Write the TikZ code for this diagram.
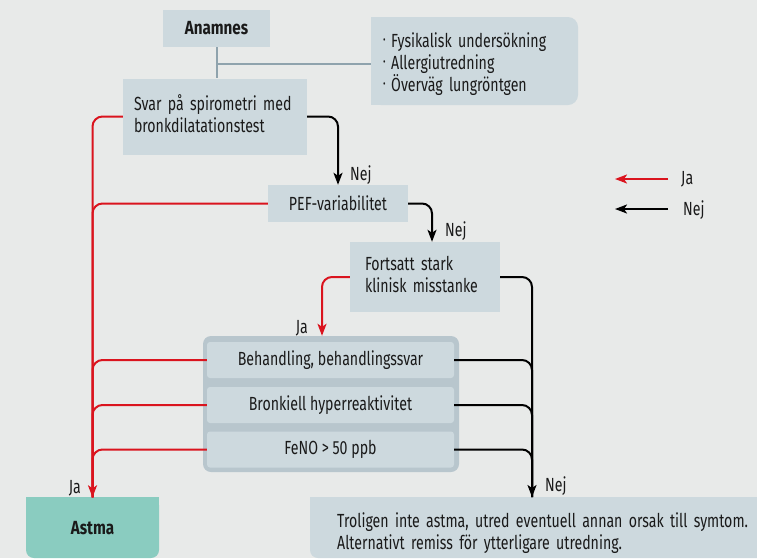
\documentclass[tikz,border=0pt]{standalone}
\usepackage{fontspec}
\setmainfont{Fira Sans}[FakeStretch=0.745, BoldFeatures={FakeStretch=0.8}]
\usetikzlibrary{arrows.meta}
\definecolor{bg}{HTML}{E8EAE9}
\definecolor{boxc}{HTML}{CDD9DE}
\definecolor{grpc}{HTML}{B8C6CD}
\definecolor{tealc}{HTML}{8ACCC0}
\definecolor{redc}{HTML}{DA141E}
\definecolor{greyl}{HTML}{8FA3AD}
\definecolor{txtc}{HTML}{1A1A1A}
\newcommand\mybul{\raisebox{0.22em}{\scalebox{0.55}{\textbullet}}\hspace{0.3em}}
\newcommand\liftlines[2]{\raisebox{#1}{\begin{tabular}{@{}l@{}}#2\end{tabular}}}
\begin{document}
\begin{tikzpicture}[x=1pt,y=-1pt,
  txt/.style={font=\fontsize{19}{22}\selectfont, text=txtc},
  boldtxt/.style={font=\fontsize{19}{22}\selectfont\bfseries, text=txtc},
  bx/.style={txt, fill=boxc, inner sep=0pt},
  lbl/.style={txt, inner sep=0pt, anchor=base west},
  jaline/.style={draw=redc, line width=2pt, rounded corners=10pt},
  nejline/.style={draw=black, line width=2pt, rounded corners=10pt},
  greyline/.style={draw=greyl, line width=2pt},
  tip/.style={-{Stealth[length=12pt,width=9pt,inset=3pt]}},
]
\fill[bg] (0,0) rectangle (757,558);
\useasboundingbox (0,0) rectangle (757,558);

% top boxes
\node[bx, boldtxt, minimum width=107pt, minimum height=37pt] (anam) at (216.5,28.5) {Anamnes};

\fill[boxc, rounded corners=10pt] (371,17) rectangle (578,105);
\fill[boxc] (371,17) rectangle (400,105);
\node[txt, minimum width=207pt, minimum height=88pt, text width=183pt, inner xsep=12pt, inner ysep=0pt, align=left] (fys) at (474.5,64)
  {\mybul Fysikalisk undersökning\\\mybul Allergiutredning\\\mybul Överväg lungröntgen};

\node[bx, minimum width=184pt, minimum height=76pt, text width=162pt, inner xsep=11pt, align=left] (svar) at (215,116.5)
  {\liftlines{3pt}{Svar på spirometri med\\bronkdilatationstest}};

\node[bx, minimum width=140pt, minimum height=37pt] (pef) at (338,203.5) {PEF-variabilitet};

\node[bx, minimum width=150pt, minimum height=70pt, text width=120pt, inner xsep=15pt, align=left] (fort) at (425,277)
  {\liftlines{4pt}{Fortsatt stark\\klinisk misstanke}};

% group
\node[fill=grpc, rounded corners=8pt, minimum width=256pt, minimum height=136pt, inner sep=0pt] (grp) at (331,404) {};
\node[bx, rounded corners=3pt, minimum width=247pt, minimum height=36pt] (beh) at (330.5,360) {Behandling, behandlingssvar};
\node[bx, rounded corners=3pt, minimum width=247pt, minimum height=36pt] (bron) at (330.5,405) {Bronkiell hyperreaktivitet};
\node[bx, rounded corners=3pt, minimum width=247pt, minimum height=36pt] (feno) at (330.5,449.5) {FeNO > 50 ppb};

% Astma
\fill[tealc, rounded corners=8pt] (26,497) rectangle (159,558);
\fill[tealc] (26,497) rectangle (159,520);
\node[boldtxt, minimum width=133pt, minimum height=61pt, inner sep=0pt] (astma) at (92.5,528) {Astma};

% Troligen
\fill[boxc, rounded corners=8pt] (310,497) rectangle (775,558);
\fill[boxc] (310,497) rectangle (775,520);
\fill[boxc] (740,497) rectangle (775,558);
\node[txt, anchor=north west, minimum width=465pt, minimum height=72pt, text width=430pt, inner xsep=27pt, inner ysep=0pt, align=left] (trol) at (310,497)
  {Troligen inte astma, utred eventuell annan orsak till symtom.\\Alternativt remiss för ytterligare utredning.};

% grey connectors
\draw[greyline] (anam.south) -- (anam.south |- svar.north);
\draw[greyline] (anam.south |- fys.west) -- (fys.west);

% red (Ja) connectors
\draw[jaline] (pef.west) -| (astma.north);
\draw[jaline] (beh.west) -| (astma.north);
\draw[jaline] (bron.west) -| (astma.north);
\draw[jaline] (feno.west) -| (astma.north);
\draw[jaline, tip] (svar.west) -| (astma.north);
\draw[jaline, tip] (fort.west) -| ([xshift=-9pt]grp.north);

% black (Nej) connectors
\draw[nejline, tip] (svar.east) -| (pef.north);
\draw[nejline, tip] (pef.east) -| ([xshift=7pt]fort.north);
\draw[nejline] (beh.east) -| ([xshift=222pt]trol.north west);
\draw[nejline] (bron.east) -| ([xshift=222pt]trol.north west);
\draw[nejline] (feno.east) -| ([xshift=222pt]trol.north west);
\draw[nejline, tip] (fort.east) -| ([xshift=222pt]trol.north west);

% labels
\node[lbl] (nej1) at (350,180) {Nej};
\node[lbl] (nej2) at (445,236) {Nej};
\node[lbl] (nej3) at (545,491) {Nej};
\node[lbl, anchor=base east] (ja1) at (308,333) {Ja};
\node[lbl, anchor=base east] (ja2) at (81,493) {Ja};

% legend
\node[lbl] (lja) at (681,184) {Ja};
\node[lbl] (lnej) at (683,215) {Nej};
\coordinate (ljas) at (668,179);
\coordinate (lnejs) at (668,209);
\draw[draw=redc, line width=2pt, tip] (ljas) -- ++(-53pt,0);
\draw[draw=black, line width=2pt, tip] (lnejs) -- ++(-53pt,0);
\end{tikzpicture}
\end{document}
